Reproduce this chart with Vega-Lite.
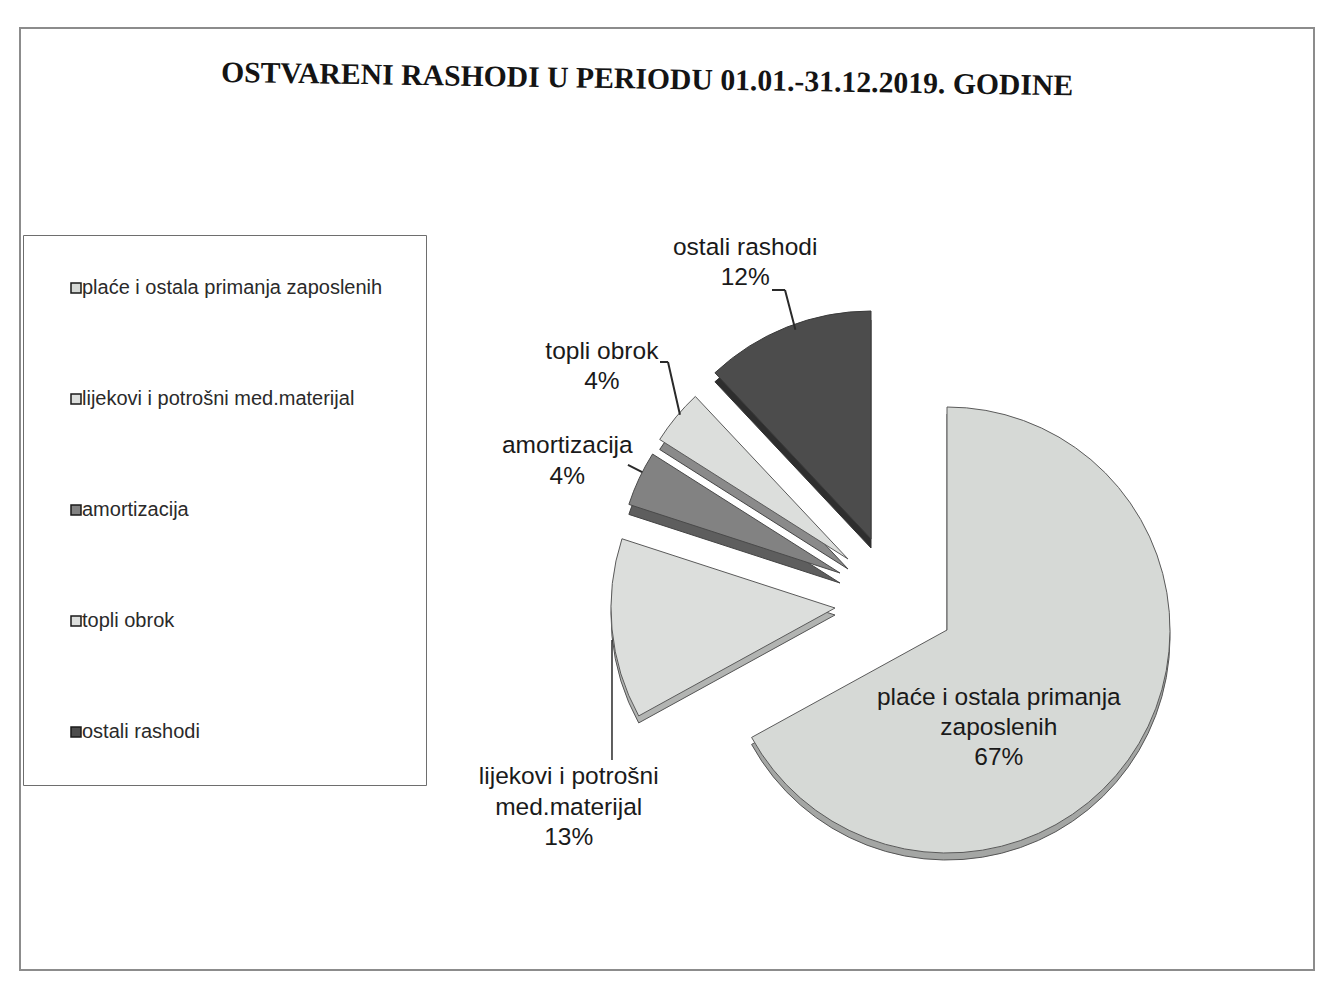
{
  "$schema": "https://vega.github.io/schema/vega-lite/v6.json",
  "width": 1322,
  "height": 987,
  "autosize": {"type": "fit", "contains": "padding"},
  "padding": {"left": 20, "top": 28, "right": 8, "bottom": 17},
  "background": "white",
  "view": {"stroke": "#8c8c8c", "strokeWidth": 2},
  "title": {
    "text": "OSTVARENI RASHODI U PERIODU 01.01.-31.12.2019. GODINE",
    "font": "Liberation Serif",
    "fontSize": 29.7,
    "fontWeight": "bold",
    "color": "#141414",
    "anchor": "middle",
    "frame": "group",
    "baseline": "alphabetic",
    "offset": -104,
    "dx": -20,
    "angle": 0.9
  },
  "data": {
    "values": [
      {"category": "plaće i ostala primanja zaposlenih", "value": 67, "order": 1, "label": "plaće i ostala primanja|zaposlenih|67%"},
      {"category": "lijekovi i potrošni med.materijal", "value": 13, "order": 2, "label": "lijekovi i potrošni|med.materijal|13%"},
      {"category": "amortizacija", "value": 4, "order": 3, "label": "amortizacija|4%"},
      {"category": "topli obrok", "value": 4, "order": 4, "label": "topli obrok|4%"},
      {"category": "ostali rashodi", "value": 12, "order": 5, "label": "ostali rashodi|12%"}
    ]
  },
  "transform": [
    {"stack": "value", "groupby": [], "sort": [{"field": "order", "order": "ascending"}], "as": ["v0", "v1"]}
  ],
  "encoding": {
    "theta": {"field": "v0", "type": "quantitative", "stack": null, "scale": {"domain": [0, 100]}}
  },
  "layer": [
    {
      "transform": [{"filter": "datum.order == 1"}],
      "mark": {"type": "arc", "radius": 223, "xOffset": 280, "yOffset": 138, "fill": "#a4a6a4", "stroke": "#555555", "strokeWidth": 1},
      "encoding": {"theta2": {"field": "v1"}}
    },
    {
      "transform": [{"filter": "datum.order == 1"}],
      "mark": {"type": "arc", "radius": 223, "xOffset": 280, "yOffset": 131, "stroke": "#5a5a5a", "strokeWidth": 1},
      "encoding": {
        "theta2": {"field": "v1"},
        "color": {"field": "category", "type": "nominal", "scale": {"domain": ["plaće i ostala primanja zaposlenih", "lijekovi i potrošni med.materijal", "amortizacija", "topli obrok", "ostali rashodi"], "range": ["#d6d9d6", "#dcdedc", "#828282", "#dcdedc", "#4c4c4c"]}, "legend": {"title": null}}
      }
    },
    {
      "transform": [{"filter": "datum.order == 2"}],
      "mark": {"type": "arc", "radius": 224, "xOffset": 168, "yOffset": 116, "fill": "#b2b4b2", "stroke": "#555555", "strokeWidth": 1},
      "encoding": {"theta2": {"field": "v1"}}
    },
    {
      "transform": [{"filter": "datum.order == 2"}],
      "mark": {"type": "arc", "radius": 224, "xOffset": 168, "yOffset": 109, "stroke": "#5a5a5a", "strokeWidth": 1},
      "encoding": {
        "theta2": {"field": "v1"},
        "color": {"field": "category", "type": "nominal", "scale": {"domain": ["plaće i ostala primanja zaposlenih", "lijekovi i potrošni med.materijal", "amortizacija", "topli obrok", "ostali rashodi"], "range": ["#d6d9d6", "#dcdedc", "#828282", "#dcdedc", "#4c4c4c"]}, "legend": {"title": null}}
      }
    },
    {
      "transform": [{"filter": "datum.order == 3"}],
      "mark": {"type": "arc", "radius": 222, "xOffset": 173, "yOffset": 84, "fill": "#5e5e5e", "stroke": "#444444", "strokeWidth": 1},
      "encoding": {"theta2": {"field": "v1"}}
    },
    {
      "transform": [{"filter": "datum.order == 3"}],
      "mark": {"type": "arc", "radius": 222, "xOffset": 173, "yOffset": 74, "stroke": "#4a4a4a", "strokeWidth": 1},
      "encoding": {
        "theta2": {"field": "v1"},
        "color": {"field": "category", "type": "nominal", "scale": {"domain": ["plaće i ostala primanja zaposlenih", "lijekovi i potrošni med.materijal", "amortizacija", "topli obrok", "ostali rashodi"], "range": ["#d6d9d6", "#dcdedc", "#828282", "#dcdedc", "#4c4c4c"]}, "legend": {"title": null}}
      }
    },
    {
      "transform": [{"filter": "datum.order == 4"}],
      "mark": {"type": "arc", "radius": 223, "xOffset": 181, "yOffset": 70, "fill": "#8a8a8a", "stroke": "#444444", "strokeWidth": 1},
      "encoding": {"theta2": {"field": "v1"}}
    },
    {
      "transform": [{"filter": "datum.order == 4"}],
      "mark": {"type": "arc", "radius": 223, "xOffset": 181, "yOffset": 60, "stroke": "#5a5a5a", "strokeWidth": 1},
      "encoding": {
        "theta2": {"field": "v1"},
        "color": {"field": "category", "type": "nominal", "scale": {"domain": ["plaće i ostala primanja zaposlenih", "lijekovi i potrošni med.materijal", "amortizacija", "topli obrok", "ostali rashodi"], "range": ["#d6d9d6", "#dcdedc", "#828282", "#dcdedc", "#4c4c4c"]}, "legend": {"title": null}}
      }
    },
    {
      "transform": [{"filter": "datum.order == 5"}],
      "mark": {"type": "arc", "radius": 228, "xOffset": 204, "yOffset": 49, "fill": "#2e2e2e", "stroke": "#333333", "strokeWidth": 1},
      "encoding": {"theta2": {"field": "v1"}}
    },
    {
      "transform": [{"filter": "datum.order == 5"}],
      "mark": {"type": "arc", "radius": 228, "xOffset": 204, "yOffset": 40, "stroke": "#3a3a3a", "strokeWidth": 1},
      "encoding": {
        "theta2": {"field": "v1"},
        "color": {"field": "category", "type": "nominal", "scale": {"domain": ["plaće i ostala primanja zaposlenih", "lijekovi i potrošni med.materijal", "amortizacija", "topli obrok", "ostali rashodi"], "range": ["#d6d9d6", "#dcdedc", "#828282", "#dcdedc", "#4c4c4c"]}, "legend": {"title": null}}
      }
    },
    {
      "transform": [{"filter": "datum.order == 5"}],
      "mark": {"type": "arc", "radius": 41, "radius2": 0, "thetaOffset": -2.6442, "theta2Offset": -2.6442, "xOffset": 118, "yOffset": -209, "fill": "transparent", "stroke": "#2a2a2a", "strokeWidth": 2},
      "encoding": {"theta2": {"field": "v0"}}
    },
    {
      "transform": [{"filter": "datum.order == 5"}],
      "mark": {"type": "arc", "radius": 13, "radius2": 0, "thetaOffset": -0.8168, "theta2Offset": -0.8168, "xOffset": 118, "yOffset": -209, "fill": "transparent", "stroke": "#2a2a2a", "strokeWidth": 2},
      "encoding": {"theta2": {"field": "v0"}}
    },
    {
      "transform": [{"filter": "datum.order == 4"}],
      "mark": {"type": "arc", "radius": 54, "radius2": 0, "thetaOffset": -2.3597, "theta2Offset": -2.3597, "xOffset": 1, "yOffset": -137, "fill": "transparent", "stroke": "#2a2a2a", "strokeWidth": 2},
      "encoding": {"theta2": {"field": "v0"}}
    },
    {
      "transform": [{"filter": "datum.order == 4"}],
      "mark": {"type": "arc", "radius": 8, "radius2": 0, "thetaOffset": -0.5655, "theta2Offset": -0.5655, "xOffset": 1, "yOffset": -137, "fill": "transparent", "stroke": "#2a2a2a", "strokeWidth": 2},
      "encoding": {"theta2": {"field": "v0"}}
    },
    {
      "transform": [{"filter": "datum.order == 3"}],
      "mark": {"type": "arc", "radius": 238, "radius2": 222, "thetaOffset": 0.157, "theta2Offset": 0.157, "xOffset": 173, "yOffset": 74, "fill": "transparent", "stroke": "#2a2a2a", "strokeWidth": 2},
      "encoding": {"theta2": {"field": "v0"}}
    },
    {
      "transform": [{"filter": "datum.order == 2"}],
      "mark": {"type": "arc", "radius": 120, "radius2": 0, "thetaOffset": -1.0681, "theta2Offset": -1.0681, "xOffset": -55, "yOffset": 141, "fill": "transparent", "stroke": "#2a2a2a", "strokeWidth": 1.5},
      "encoding": {"theta2": {"field": "v0"}}
    },
    {
      "transform": [{"filter": "datum.order == 1"}],
      "mark": {"type": "text", "radius": 108, "thetaOffset": 2.641, "xOffset": 280, "yOffset": 134, "dy": -30, "font": "Liberation Sans", "fontSize": 24.5, "lineHeight": 30, "lineBreak": "|", "align": "center", "baseline": "middle", "fill": "#1a1a1a"},
      "encoding": {"text": {"field": "label"}}
    },
    {
      "transform": [{"filter": "datum.order == 2"}],
      "mark": {"type": "text", "radius": 386, "thetaOffset": -0.061, "xOffset": 228, "yOffset": 103, "dy": -31, "font": "Liberation Sans", "fontSize": 24.5, "lineHeight": 30.5, "lineBreak": "|", "align": "center", "baseline": "middle", "fill": "#1a1a1a"},
      "encoding": {"text": {"field": "label"}}
    },
    {
      "transform": [{"filter": "datum.order == 3"}],
      "mark": {"type": "text", "radius": 357, "thetaOffset": 0.094, "xOffset": 228, "yOffset": 103, "dy": -14, "font": "Liberation Sans", "fontSize": 24.5, "lineHeight": 31, "lineBreak": "|", "align": "center", "baseline": "middle", "fill": "#1a1a1a"},
      "encoding": {"text": {"field": "label"}}
    },
    {
      "transform": [{"filter": "datum.order == 4"}],
      "mark": {"type": "text", "radius": 375, "thetaOffset": 0.108, "xOffset": 228, "yOffset": 103, "dy": -16, "font": "Liberation Sans", "fontSize": 24.5, "lineHeight": 30, "lineBreak": "|", "align": "center", "baseline": "middle", "fill": "#1a1a1a"},
      "encoding": {"text": {"field": "label"}}
    },
    {
      "transform": [{"filter": "datum.order == 5"}],
      "mark": {"type": "text", "radius": 370, "thetaOffset": 0.337, "xOffset": 228, "yOffset": 103, "dy": -16, "font": "Liberation Sans", "fontSize": 24.5, "lineHeight": 30, "lineBreak": "|", "align": "center", "baseline": "middle", "fill": "#1a1a1a"},
      "encoding": {"text": {"field": "label"}}
    }
  ],
  "config": {
    "legend": {
      "orient": "none",
      "legendX": 3,
      "legendY": 207,
      "padding": 43,
      "strokeColor": "#6e6e6e",
      "symbolType": "square",
      "symbolSize": 100,
      "symbolStrokeColor": "#1a1a1a",
      "symbolStrokeWidth": 1.5,
      "labelFont": "Liberation Sans",
      "labelFontSize": 20,
      "labelColor": "#2a2a2a",
      "labelLimit": 400,
      "labelOffset": -4,
      "rowPadding": 91
    }
  }
}
